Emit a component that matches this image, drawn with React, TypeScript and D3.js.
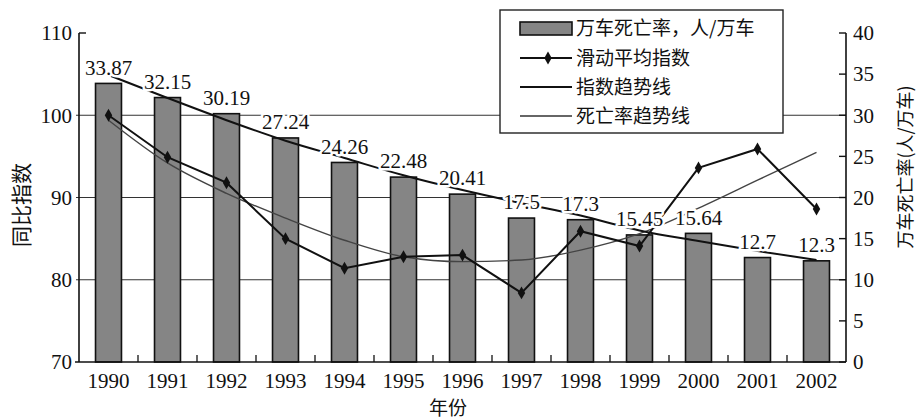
import React from 'react';
import * as d3 from 'd3';

const years = ['1990', '1991', '1992', '1993', '1994', '1995', '1996', '1997', '1998', '1999', '2000', '2001', '2002'];
const deathRate = [33.87, 32.15, 30.19, 27.24, 24.26, 22.48, 20.41, 17.5, 17.3, 15.45, 15.64, 12.7, 12.3];
const movingAvgIndex = [100, 94.9, 91.8, 85.0, 81.4, 82.8, 83.0, 78.4, 85.9, 84.1, 93.6, 95.9, 88.6];
const indexTrend = [99.4, 94.2, 90.5, 87.5, 84.8, 82.8, 82.2, 82.4, 83.6, 85.6, 88.7, 92.1, 95.5];
const deathTrend = [34.9, 32.1, 29.4, 26.9, 24.8, 22.7, 20.9, 19.3, 17.8, 16.0, 14.7, 13.5, 12.4];
const leftTicks = [70, 80, 90, 100, 110];
const rightTicks = [0, 5, 10, 15, 20, 25, 30, 35, 40];
const legendLabels = ['万车死亡率，人/万车', '滑动平均指数', '指数趋势线', '死亡率趋势线'];
const leftTitle = '同比指数';
const rightTitle = '万车死亡率(人/万车)';
const xTitle = '年份';

const W = 921, H = 419;
const L = 79, R = 846, T = 33, B = 362;
const SERIF = '"Liberation Serif", "Times New Roman", serif';
const CJK = '"Noto Sans CJK SC", "Noto Sans", sans-serif';
const BAR_FILL = '#858585';

export default function App() {
  const x = d3.scaleBand<string>().domain(years).range([L, R]).paddingInner(0.56).paddingOuter(0.28);
  const yL = d3.scaleLinear().domain([70, 110]).range([B, T]);
  const yR = d3.scaleLinear().domain([0, 40]).range([B, T]);
  const bw = x.bandwidth();
  const cx = (i: number) => (x(years[i]) as number) + bw / 2;
  const step = x.step();

  const maLine = d3.line<number>().x((_, i) => cx(i)).y(d => yL(d));
  const idxTrendLine = d3.line<number>().x((_, i) => cx(i)).y(d => yL(d)).curve(d3.curveMonotoneX);
  const drTrendLine = d3.line<number>().x((_, i) => cx(i)).y(d => yR(d)).curve(d3.curveMonotoneX);
  const diamond = d3.symbol().type(d3.symbolDiamond).size(48)() as string;

  const boundaries = d3.range(1, years.length).map(i => (x(years[i]) as number) - step * 0.28);

  const lgX = 500, lgY = 10, lgW = 283, lgH = 123;
  const rowY = [28, 58, 87, 116];

  return (
    <svg width={W} height={H} style={{ position: 'absolute', left: 0, top: 0, background: '#fff' }}>
      <rect x={0} y={0} width={W} height={H} fill="#fff" />
      {[80, 90, 100].map(v => (
        <line key={v} x1={L - 3} x2={R} y1={yL(v)} y2={yL(v)} stroke="#333" strokeWidth={1.2} />
      ))}
      {deathRate.map((v, i) => (
        <rect key={i} x={x(years[i])} y={yR(v)} width={bw} height={B - yR(v)} fill={BAR_FILL} stroke="#111" strokeWidth={1.6} />
      ))}
      <line x1={L} x2={L} y1={T} y2={B} stroke="#111" strokeWidth={1.6} />
      <line x1={R} x2={R} y1={T} y2={B} stroke="#111" strokeWidth={1.6} />
      <line x1={L - 4} x2={R} y1={B} y2={B} stroke="#111" strokeWidth={1.6} />
      <line x1={L} x2={L + 7} y1={yL(110)} y2={yL(110)} stroke="#111" strokeWidth={1.4} />
      {rightTicks.map(v => (
        <line key={v} x1={R - 7} x2={R} y1={yR(v)} y2={yR(v)} stroke="#111" strokeWidth={1.4} />
      ))}
      {boundaries.map((bx, i) => (
        <line key={i} x1={bx} x2={bx} y1={B} y2={B - 7} stroke="#111" strokeWidth={1.3} />
      ))}
      {leftTicks.map(v => (
        <text key={v} x={L - 7} y={yL(v)} dy="0.35em" textAnchor="end" fontFamily={SERIF} fontSize={21} fill="#111">{v}</text>
      ))}
      {rightTicks.map(v => (
        <text key={v} x={R + 7} y={yR(v)} dy="0.35em" textAnchor="start" fontFamily={SERIF} fontSize={21} fill="#111">{v}</text>
      ))}
      {years.map((yr, i) => (
        <text key={yr} x={cx(i)} y={388} textAnchor="middle" fontFamily={SERIF} fontSize={21} fill="#111">{yr}</text>
      ))}
      <text x={448} y={408} dy="0.35em" textAnchor="middle" fontFamily={CJK} fontSize={19} fill="#111">{xTitle}</text>
      <text transform={`translate(22,205) rotate(-90)`} textAnchor="middle" dy="0.35em" fontFamily={CJK} fontSize={21} fill="#111">{leftTitle}</text>
      <text transform={`translate(906,167) rotate(-90)`} textAnchor="middle" dy="0.35em" fontFamily={CJK} fontSize={18} fill="#111">{rightTitle}</text>
      <rect x={lgX} y={lgY} width={lgW} height={lgH} fill="#fff" stroke="#222" strokeWidth={1.4} />
      <rect x={520} y={rowY[0] - 6} width={52} height={13} fill={BAR_FILL} stroke="#111" strokeWidth={1.6} />
      <line x1={520} x2={572} y1={rowY[1]} y2={rowY[1]} stroke="#111" strokeWidth={2} />
      <path d={diamond} transform={`translate(548,${rowY[1]})`} fill="#111" />
      <line x1={520} x2={572} y1={rowY[2]} y2={rowY[2]} stroke="#111" strokeWidth={2} />
      <line x1={520} x2={572} y1={rowY[3]} y2={rowY[3]} stroke="#333" strokeWidth={1.3} />
      {legendLabels.map((t, i) => (
        <text key={t} x={576} y={rowY[i]} dy="0.35em" fontFamily={CJK} fontSize={19} fill="#111">{t}</text>
      ))}
      <path d={idxTrendLine(indexTrend) as string} fill="none" stroke="#444" strokeWidth={1.4} />
      <path d={drTrendLine(deathTrend) as string} fill="none" stroke="#111" strokeWidth={2} />
      <path d={maLine(movingAvgIndex) as string} fill="none" stroke="#111" strokeWidth={2} />
      {movingAvgIndex.map((v, i) => (
        <path key={i} d={diamond} transform={`translate(${cx(i)},${yL(v)})`} fill="#111" />
      ))}
      {deathRate.map((v, i) => (
        <text key={i} x={cx(i)} y={yR(v) - 16} dy="0.35em" textAnchor="middle" fontFamily={SERIF} fontSize={21}
          fill="#111" stroke="#fff" strokeWidth={5} paintOrder="stroke" strokeLinejoin="round">{String(v)}</text>
      ))}
    </svg>
  );
}
